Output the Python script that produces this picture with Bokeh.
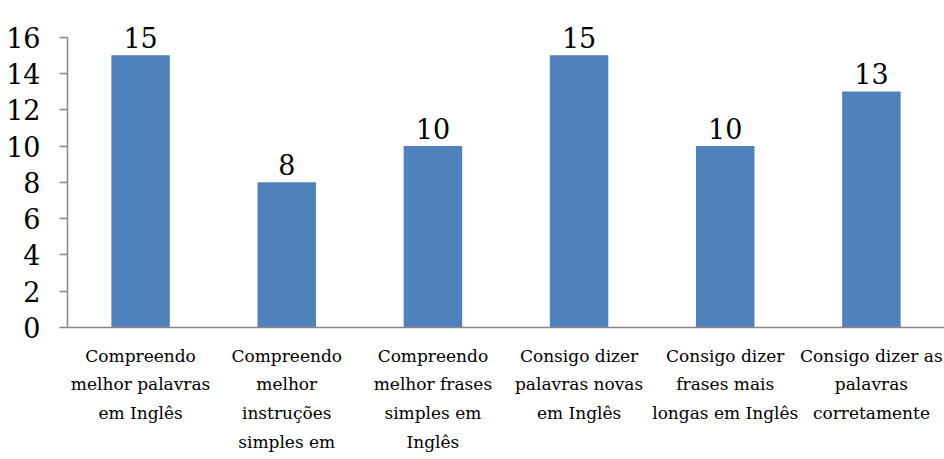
from bokeh.plotting import figure
from bokeh.models import ColumnDataSource, FixedTicker, Range1d, Span
from bokeh.core.properties import value
from bokeh.embed import file_html
from bokeh.resources import INLINE

# Survey answers and how many students chose each one
categories = [
    "Compreendo melhor palavras em Inglês",
    "Compreendo melhor instruções simples em Inglês",
    "Compreendo melhor frases simples em Inglês",
    "Consigo dizer palavras novas em Inglês",
    "Consigo dizer frases mais longas em Inglês",
    "Consigo dizer as palavras corretamente",
]
counts = [15, 8, 10, 15, 10, 13]
wrapped_labels = [
    "Compreendo\nmelhor palavras\nem Inglês",
    "Compreendo\nmelhor\ninstruções\nsimples em\nInglês",
    "Compreendo\nmelhor frases\nsimples em\nInglês",
    "Consigo dizer\npalavras novas\nem Inglês",
    "Consigo dizer\nfrases mais\nlongas em Inglês",
    "Consigo dizer as\npalavras\ncorretamente",
]
y_ticks = [0, 2, 4, 6, 8, 10, 12, 14, 16]

FONT = "DejaVu Serif"
BAR = "#4F81BD"
AXIS = "#868686"

src = ColumnDataSource(dict(
    cat=categories,
    count=counts,
    count_text=[str(c) for c in counts],
    label=wrapped_labels,
    zero=[0] * len(categories),
))

p = figure(
    width=944, height=459,
    x_range=categories,
    y_range=Range1d(-7.27, 17.74),
    output_backend="svg", toolbar_location=None,
    min_border_left=67, min_border_right=0,
    min_border_top=5, min_border_bottom=0,
)
p.outline_line_color = None
p.grid.visible = False
p.xaxis.visible = False

p.vbar(x="cat", top="count", width=0.4, source=src,
       fill_color=BAR, line_color=None)

# category baseline at zero
p.add_layout(Span(location=0, dimension="width",
                  line_color=AXIS, line_width=1.5))

# value above each bar
p.text(x="cat", y="count", text="count_text", source=src,
       text_font=value(FONT), text_font_size="27px", text_color="black",
       text_align="center", text_baseline="alphabetic", y_offset=-18)

# category names under the baseline
p.text(x="cat", y="zero", text="label", source=src,
       text_font=value(FONT), text_font_size="17px", text_color="black",
       text_align="center", text_baseline="top", text_line_height=1.44,
       y_offset=18)

# y axis: 0..16
ya = p.yaxis[0]
ya.ticker = FixedTicker(ticks=y_ticks)
ya.bounds = (0, 16)
ya.axis_line_color = AXIS
ya.axis_line_width = 1.5
ya.major_tick_line_color = AXIS
ya.major_tick_line_width = 1.5
ya.major_tick_out = 8
ya.major_tick_in = 0
ya.minor_tick_line_color = None
ya.major_label_text_font = FONT
ya.major_label_text_font_size = "27px"
ya.major_label_text_color = "black"
ya.major_label_standoff = 19

open("out.html", "w").write(file_html(p, INLINE))
